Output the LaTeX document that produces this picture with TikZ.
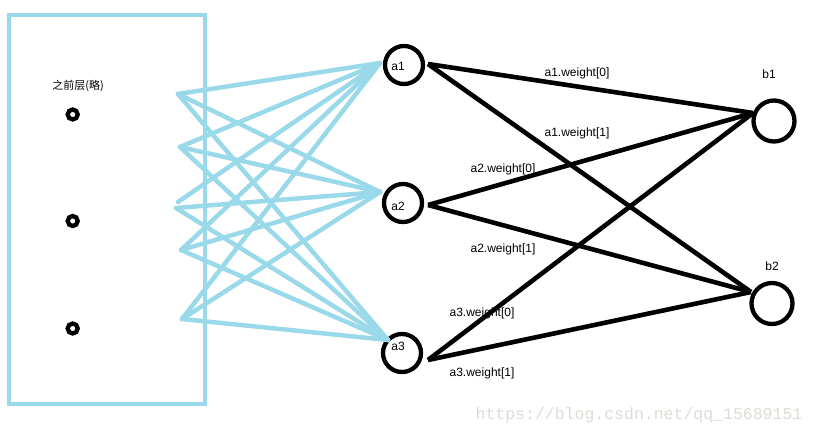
\documentclass[tikz,border=0pt]{standalone}
\usepackage{fontspec}
\setmainfont{Liberation Sans}
\newfontfamily\cjk{Noto Sans CJK SC}
\newfontfamily\wmfont{Liberation Mono}
\definecolor{lblue}{RGB}{153,217,234}
\definecolor{wmgray}{RGB}{222,219,213}
\begin{document}
\begin{tikzpicture}[x=1pt,y=-1pt,
  txt/.style={inner sep=0pt,font=\fontsize{12}{14}\selectfont},
  neuA/.style={circle,draw=black,line width=4.3pt,minimum size=38pt,inner sep=0pt},
  neuB/.style={circle,draw=black,line width=4.3pt,minimum size=41pt,inner sep=0pt},
  ring/.style={circle,draw=black,line width=4.3pt,minimum size=10pt,inner sep=0pt},
  bline/.style={draw=lblue,line width=4.5pt,line cap=round},
  kline/.style={draw=black,line width=4.6pt}]
\useasboundingbox (0,0) rectangle (817,436);
% previous layer box
\node[draw=lblue,line width=4.5pt,minimum width=196pt,minimum height=389pt,inner sep=0pt] (box) at (107,209.5) {};
\node[txt,font=\cjk\fontsize{11}{13}\selectfont] (prevt) at (78,86) {之前层(略)};
\node[ring] (r1) at (72.7,114.5) {};
\node[ring] (r2) at (72.7,221) {};
\node[ring] (r3) at (72.7,328.5) {};
% hidden neurons
\node[neuA] (a1) at (404,65) {};
\node[neuA] (a2) at (403,203) {};
\node[neuA] (a3) at (402,353) {};
\node[neuB] (b1) at (774,121) {};
\node[neuB] (b2) at (772,303.5) {};
\node[txt] (a1t) at (398,66) {a1};
\node[txt] (a2t) at (398,206) {a2};
\node[txt] (a3t) at (398,346) {a3};
\node[txt] (b1t) at (769,74) {b1};
\node[txt] (b2t) at (772,266) {b2};
% left endpoints
\coordinate (p1) at (178,94);
\coordinate (p2) at (180,147);
\coordinate (p3) at (178,202);
\coordinate (p3b) at (176,208);
\coordinate (p4) at (181,250);
\coordinate (p5) at (182,319);
\coordinate (e1) at (380,63);
\coordinate (e2) at (380,192);
\coordinate (e3) at (388,340);
\foreach \p in {p1,p2,p3,p4,p5} {\draw[bline] (\p) -- (e1);}
\foreach \p in {p1,p2,p3b,p4,p5} {\draw[bline] (\p) -- (e2);}
\foreach \p in {p1,p2,p3b,p4,p5} {\draw[bline] (\p) -- (e3);}
% black connectors
\coordinate (s1) at (428,64);
\coordinate (s2) at (428,205);
\coordinate (s3) at (428,360);
\coordinate (t1) at (753,113);
\coordinate (t2) at (751,292);
\foreach \s in {s1,s2,s3} {\draw[kline] (\s) -- (t1); \draw[kline] (\s) -- (t2);}
% weight labels
\node[txt] (w10) at (577,73) {a1.weight[0]};
\node[txt] (w11) at (577,133) {a1.weight[1]};
\node[txt] (w20) at (503,169) {a2.weight[0]};
\node[txt] (w21) at (503,249) {a2.weight[1]};
\node[txt] (w30) at (482,313) {a3.weight[0]};
\node[txt] (w31) at (482,373) {a3.weight[1]};
% watermark
\node[inner sep=0pt,text=wmgray,font=\wmfont\fontsize{16.5}{18}\selectfont] (wm) at (639,415) {https://blog.csdn.net/qq\_15689151};
\end{tikzpicture}
\end{document}
